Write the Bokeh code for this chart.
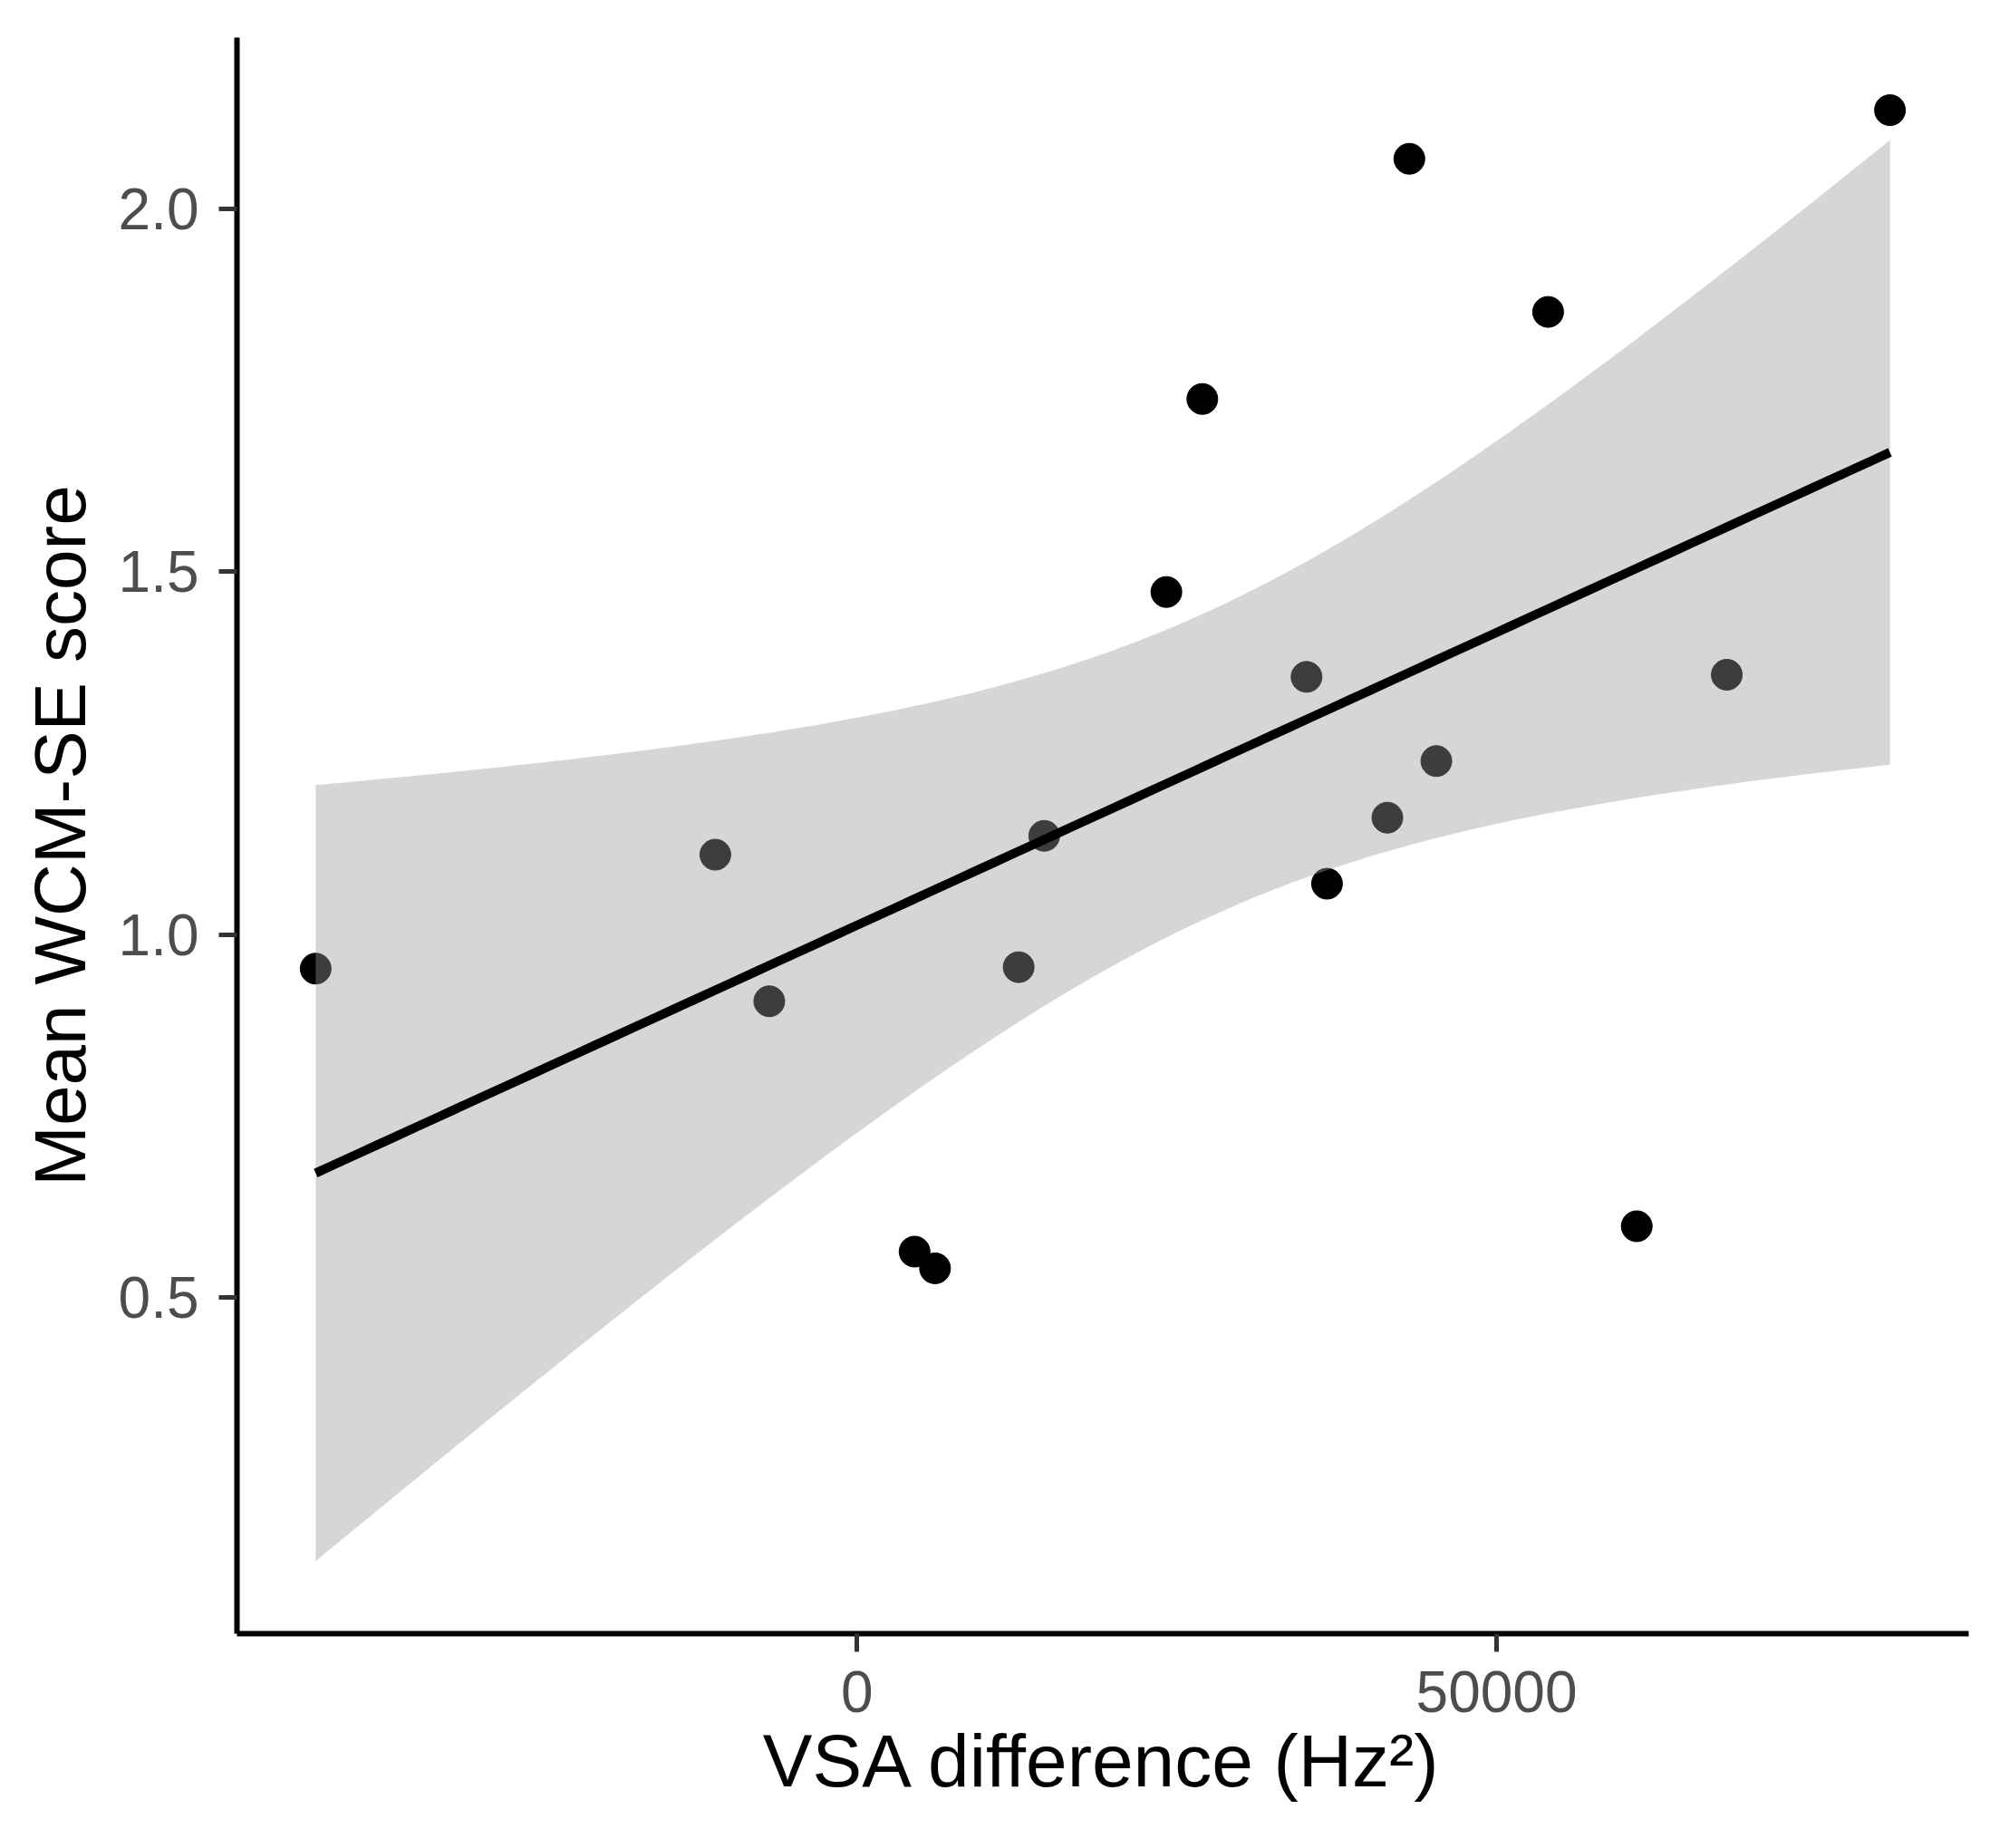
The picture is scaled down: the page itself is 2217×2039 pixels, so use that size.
import numpy as np
from bokeh.plotting import figure
from bokeh.models import FixedTicker, NumeralTickFormatter, Range1d
from bokeh.embed import file_html
from bokeh.resources import INLINE

# ---- data ----
vsa_diff = [-42340, -11090, -6870, 4490, 6090, 12630, 14630, 24180, 26990,
            35140, 36740, 41460, 43180, 45290, 54030, 60960, 68000, 80760]
wcm_se = [0.953, 1.110, 0.908, 0.563, 0.540, 0.955, 1.136, 1.472, 1.738,
          1.355, 1.070, 1.161, 2.069, 1.239, 1.858, 0.598, 1.358, 2.136]

x_ticks = [0, 50000]
y_ticks = [0.5, 1.0, 1.5, 2.0]
x_title = "VSA difference (Hz\u00b2)"
y_title = "Mean WCM-SE score"
T_975_DF16 = 2.119905  # t quantile for 95% CI with n-2 = 16 df

# ---- linear fit with 95% confidence band (as geom_smooth(method="lm")) ----
x = np.array(vsa_diff, dtype=float)
y = np.array(wcm_se, dtype=float)
n = len(x)
xbar, ybar = x.mean(), y.mean()
sxx = ((x - xbar) ** 2).sum()
slope = ((x - xbar) * (y - ybar)).sum() / sxx
icpt = ybar - slope * xbar
resid = y - (icpt + slope * x)
s = np.sqrt((resid ** 2).sum() / (n - 2))
xg = np.linspace(x.min(), x.max(), 80)
fit = icpt + slope * xg
se = s * np.sqrt(1.0 / n + (xg - xbar) ** 2 / sxx)
lo = fit - T_975_DF16 * se
hi = fit + T_975_DF16 * se

def expand(a, b, f=0.05):
    d = (b - a) * f
    return a - d, b + d

x0, x1 = expand(x.min(), x.max())
y0, y1 = expand(min(lo.min(), y.min()), max(hi.max(), y.max()))

p = figure(width=2201, height=2023, output_backend="svg", toolbar_location=None,
           x_range=Range1d(x0, x1), y_range=Range1d(y0, y1),
           min_border_left=261, min_border_right=29,
           min_border_top=41, min_border_bottom=221)
p.xgrid.visible = False
p.ygrid.visible = False
p.outline_line_color = None
p.background_fill_color = "white"
p.border_fill_color = "white"

p.scatter(vsa_diff, wcm_se, size=34, fill_color="black", line_color="black")
p.varea(x=xg, y1=lo, y2=hi, fill_color="#999999", fill_alpha=0.4)
p.line(xg, fit, line_color="black", line_width=10)

FONT = "Liberation Sans"
for ax in (p.xaxis[0], p.yaxis[0]):
    ax.axis_line_color = "black"
    ax.axis_line_width = 6
    ax.major_tick_line_color = "#333333"
    ax.major_tick_line_width = 5
    ax.major_tick_out = 20
    ax.major_tick_in = 0
    ax.minor_tick_line_color = None
    ax.major_label_text_font = FONT
    ax.major_label_text_font_size = "64px"
    ax.major_label_text_color = "#4d4d4d"
    ax.axis_label_text_font = FONT
    ax.axis_label_text_font_size = "80px"
    ax.axis_label_text_font_style = "normal"
    ax.axis_label_text_color = "black"

p.xaxis[0].ticker = FixedTicker(ticks=x_ticks)
p.xaxis[0].formatter = NumeralTickFormatter(format="0")
p.xaxis[0].axis_label = x_title
p.xaxis[0].axis_label_text_font_size = "82px"
p.xaxis[0].major_label_standoff = 21
p.xaxis[0].axis_label_standoff = 5

p.yaxis[0].ticker = FixedTicker(ticks=y_ticks)
p.yaxis[0].formatter = NumeralTickFormatter(format="0.0")
p.yaxis[0].axis_label = y_title
p.yaxis[0].major_label_standoff = 22
p.yaxis[0].axis_label_standoff = 17

open("out.html", "w").write(file_html(p, INLINE))
